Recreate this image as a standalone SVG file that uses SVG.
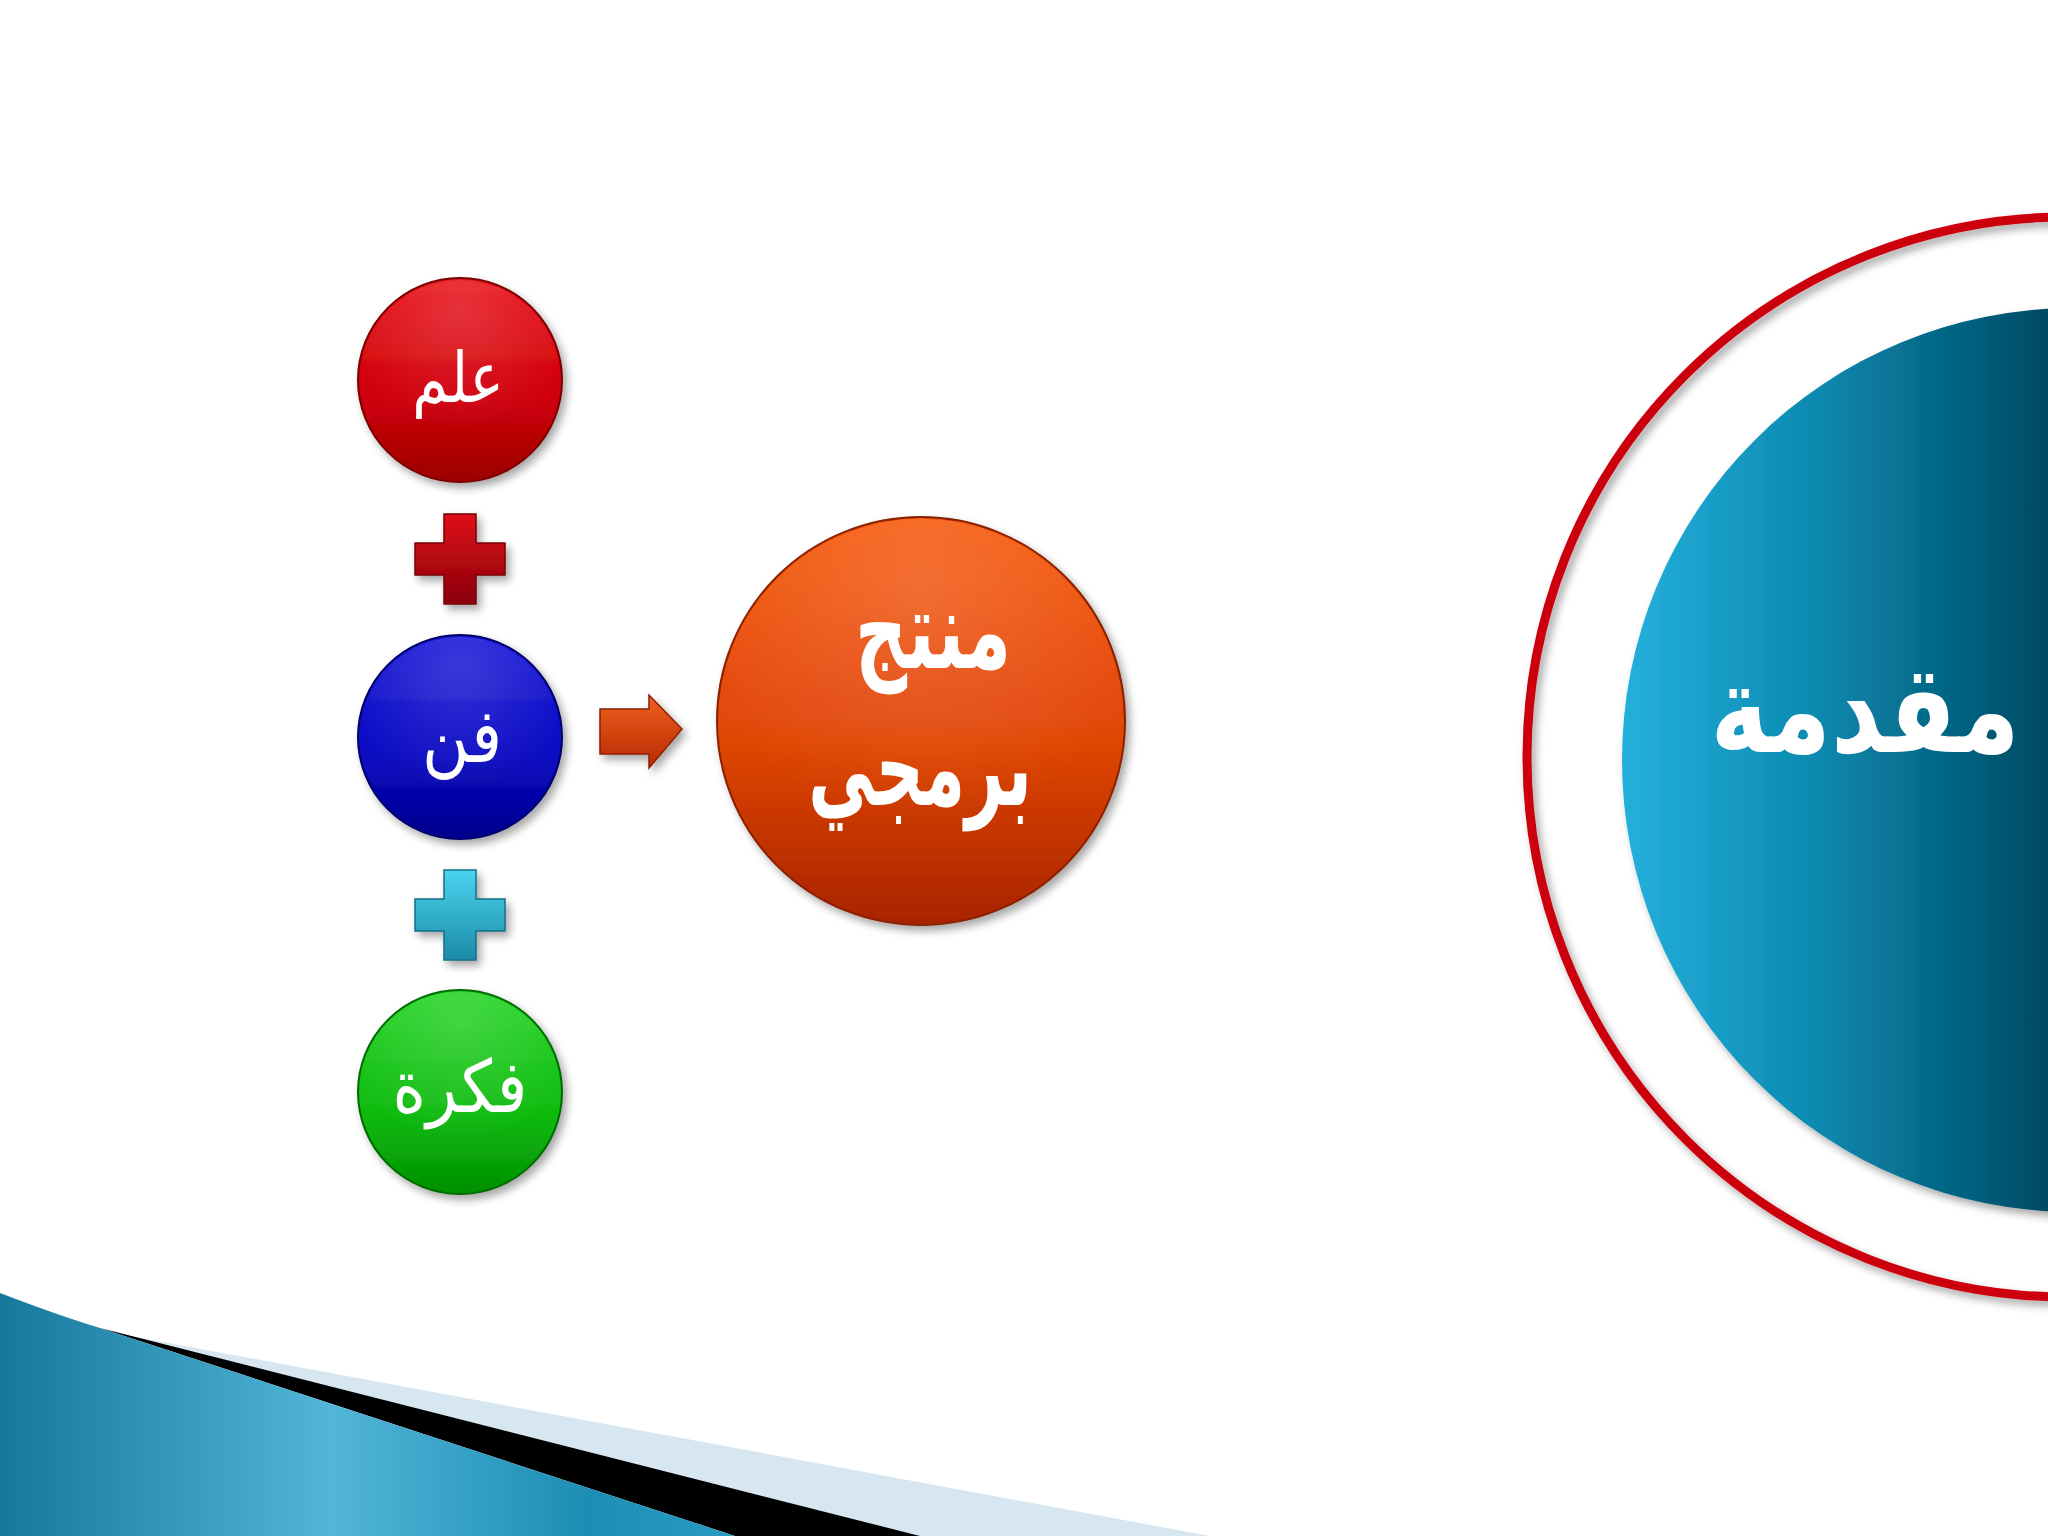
<svg xmlns="http://www.w3.org/2000/svg" width="2048" height="1536" viewBox="0 0 2048 1536">
<style>
.lbl{fill:#ffffff;font-family:"DejaVu Sans","Noto Sans",sans-serif;text-anchor:middle;direction:rtl}
.bold{font-weight:bold}
</style>
<defs>
<filter id="sh" x="-20%" y="-20%" width="150%" height="150%">
<feDropShadow dx="4" dy="5" stdDeviation="4" flood-color="#000" flood-opacity="0.35"/>
</filter>
<linearGradient id="gRed" x1="0" y1="0" x2="0" y2="1">
<stop offset="0" stop-color="#e8141c"/><stop offset="0.6" stop-color="#cf0009"/><stop offset="1" stop-color="#9a0000"/>
</linearGradient>
<linearGradient id="gBlue" x1="0" y1="0" x2="0" y2="1">
<stop offset="0" stop-color="#1a1ad8"/><stop offset="0.6" stop-color="#0a0ac2"/><stop offset="1" stop-color="#00008c"/>
</linearGradient>
<linearGradient id="gGreen" x1="0" y1="0" x2="0" y2="1">
<stop offset="0" stop-color="#27d427"/><stop offset="0.6" stop-color="#10bb10"/><stop offset="1" stop-color="#009000"/>
</linearGradient>
<linearGradient id="gOrange" x1="0" y1="0" x2="0" y2="1">
<stop offset="0" stop-color="#f65a10"/><stop offset="0.55" stop-color="#e04606"/><stop offset="1" stop-color="#a82300"/>
</linearGradient>
<linearGradient id="gPlusR" x1="0" y1="0" x2="0" y2="1">
<stop offset="0" stop-color="#e0101a"/><stop offset="1" stop-color="#8a0008"/>
</linearGradient>
<linearGradient id="gPlusC" x1="0" y1="0" x2="0" y2="1">
<stop offset="0" stop-color="#4ad4ee"/><stop offset="1" stop-color="#1a8aa8"/>
</linearGradient>
<linearGradient id="gArrow" x1="0" y1="0" x2="0" y2="1">
<stop offset="0" stop-color="#f06020"/><stop offset="1" stop-color="#b82a00"/>
</linearGradient>
<linearGradient id="gTeal" gradientUnits="userSpaceOnUse" x1="1622" y1="0" x2="2048" y2="0">
<stop offset="0" stop-color="#25b0dc"/><stop offset="0.45" stop-color="#0b8ab0"/><stop offset="1" stop-color="#004a64"/>
</linearGradient>
<linearGradient id="gSwoosh" x1="0" y1="0" x2="1" y2="0">
<stop offset="0" stop-color="#16799c"/><stop offset="0.45" stop-color="#52b6d8"/><stop offset="0.8" stop-color="#1c8db4"/><stop offset="1" stop-color="#2a9cc2"/>
</linearGradient>
<radialGradient id="gGloss" cx="0.5" cy="0.15" r="0.6">
<stop offset="0" stop-color="#fff" stop-opacity="0.15"/><stop offset="1" stop-color="#fff" stop-opacity="0"/>
</radialGradient>
</defs>
<rect width="2048" height="1536" fill="#ffffff"/>

<g id="swoosh">
<path d="M120,1334 L1210,1536 L900,1536 Z" fill="#d6e7f1"/>
<path d="M100,1328 L920,1536 L735,1536 Z" fill="#000000"/>
<path d="M0,1293 Q60,1316 100,1328 L735,1536 L0,1536 Z" fill="url(#gSwoosh)"/>
</g>

<g id="intro">
<circle cx="2067" cy="757" r="540" fill="none" stroke="#cc0010" stroke-width="9" filter="url(#sh)"/>
<circle cx="2074" cy="760" r="452" fill="url(#gTeal)" filter="url(#sh)"/>
<text class="lbl bold" font-size="112" transform="translate(1865,752) scale(0.88,1.1)">مقدمة</text>
</g>

<g id="node-ilm">
<circle cx="460" cy="380" r="102" fill="url(#gRed)" stroke="#7a0000" stroke-width="2" filter="url(#sh)"/>
<circle cx="460" cy="380" r="100" fill="url(#gGloss)"/>
<text class="lbl" font-size="64" transform="translate(458,402) scale(0.9,1.1)">علم</text>
</g>

<g id="plus-red" filter="url(#sh)">
<path d="M444,514 h32 v29 h29 v32 h-29 v29 h-32 v-29 h-29 v-32 h29 Z" fill="url(#gPlusR)" stroke="#7a0008" stroke-width="1.5"/>
</g>

<g id="node-fan">
<circle cx="460" cy="737" r="102" fill="url(#gBlue)" stroke="#00006a" stroke-width="2" filter="url(#sh)"/>
<circle cx="460" cy="737" r="100" fill="url(#gGloss)"/>
<text class="lbl" font-size="68" transform="translate(462,762) scale(0.95,1.1)">فن</text>
</g>

<g id="plus-cyan" filter="url(#sh)">
<path d="M444,870 h32 v29 h29 v32 h-29 v29 h-32 v-29 h-29 v-32 h29 Z" fill="url(#gPlusC)" stroke="#156f88" stroke-width="1.5"/>
</g>

<g id="node-fikra">
<circle cx="460" cy="1092" r="102" fill="url(#gGreen)" stroke="#006a00" stroke-width="2" filter="url(#sh)"/>
<circle cx="460" cy="1092" r="100" fill="url(#gGloss)"/>
<text class="lbl" font-size="66" transform="translate(460,1112) scale(0.97,1.1)">فكرة</text>
</g>

<g id="connectors">
<path d="M600,709 h49 v-14 l33,34 l-33,39 v-14 h-49 Z" fill="url(#gArrow)" stroke="#8a2000" stroke-width="1.5" filter="url(#sh)"/>
</g>

<g id="node-product">
<circle cx="921" cy="721" r="204" fill="url(#gOrange)" stroke="#8a2000" stroke-width="2" filter="url(#sh)"/>
<circle cx="921" cy="721" r="202" fill="url(#gGloss)"/>
<text class="lbl bold" font-size="94" transform="translate(933,668) scale(0.77,1.15)">منتج</text>
<text class="lbl bold" font-size="94" transform="translate(920,805) scale(0.71,1.15)">برمجي</text>
</g>
</svg>
